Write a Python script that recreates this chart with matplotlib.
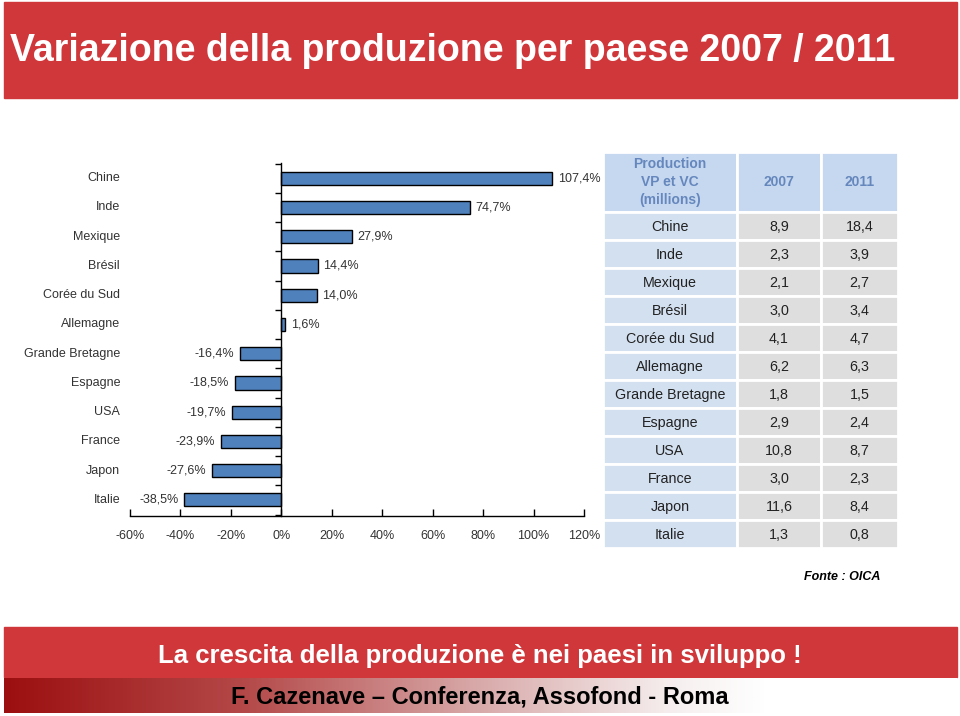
import numpy as np
import matplotlib
matplotlib.use('Agg')
import matplotlib.pyplot as plt
from matplotlib.patches import Rectangle
from matplotlib.colors import LinearSegmentedColormap

# data
countries = ['Chine', 'Inde', 'Mexique', 'Brésil', 'Corée du Sud', 'Allemagne',
             'Grande Bretagne', 'Espagne', 'USA', 'France', 'Japon', 'Italie']
variation = [107.4, 74.7, 27.9, 14.4, 14.0, 1.6, -16.4, -18.5, -19.7, -23.9, -27.6, -38.5]
prod_2007 = ['8,9', '2,3', '2,1', '3,0', '4,1', '6,2', '1,8', '2,9', '10,8', '3,0', '11,6', '1,3']
prod_2011 = ['18,4', '3,9', '2,7', '3,4', '4,7', '6,3', '1,5', '2,4', '8,7', '2,3', '8,4', '0,8']
x_ticks = [-60, -40, -20, 0, 20, 40, 60, 80, 100, 120]

plt.rcParams['font.family'] = ['Liberation Sans', 'DejaVu Sans']

W, H = 960, 716
fig = plt.figure(figsize=(W / 100, H / 100), dpi=100)

# background / overlay axes in pixel coords
bg = fig.add_axes([0, 0, 1, 1])
bg.set_xlim(0, W)
bg.set_ylim(H, 0)
bg.axis('off')

red = '#d0373a'
bg.add_patch(Rectangle((4, 2), 953, 96, color=red, zorder=1))
bg.text(10, 51, 'Variazione della produzione per paese 2007 / 2011', color='white',
        fontsize=27, fontweight='bold', va='center', ha='left')

bg.add_patch(Rectangle((4, 627), 953, 50, color=red, zorder=1))
bg.text(480, 656, 'La crescita della produzione è nei paesi in sviluppo !', color='white',
        fontsize=18.5, fontweight='bold', va='center', ha='center')

# gradient band
cmap = LinearSegmentedColormap.from_list('band', [(0.0, '#9c0f10'), (0.25, '#b44848'),
                                                  (0.5, '#d9aaaa'), (0.7, '#f6eeee'),
                                                  (0.8, '#ffffff'), (1.0, '#ffffff')])
grad = np.linspace(0, 1, 512).reshape(1, -1)
bg.imshow(grad, cmap=cmap, extent=(4, 957, 713, 678), aspect='auto', zorder=1)
bg.text(480, 697, 'F. Cazenave – Conferenza, Assofond - Roma', color='black',
        fontsize=17, fontweight='bold', va='center', ha='center')

bg.text(880, 577, 'Fonte : OICA', color='black', fontsize=9, fontstyle='italic',
        fontweight='bold', ha='right', va='center')

# table
col_x = [603, 737, 821, 898]
head_top, head_bot = 152, 212
row_h = 28
head_bg = '#c6d8ef'
first_bg = '#d3e0f0'
cell_bg = '#dedede'
for j in range(3):
    bg.add_patch(Rectangle((col_x[j], head_top), col_x[j + 1] - col_x[j], head_bot - head_top,
                           facecolor=head_bg, edgecolor='white', lw=2, zorder=2))
head_col = '#6587bd'
bg.text((col_x[0] + col_x[1]) / 2, 182, 'Production\nVP et VC\n(millions)', color=head_col,
        fontsize=10, fontweight='bold', ha='center', va='center', linespacing=1.4)
bg.text((col_x[1] + col_x[2]) / 2, 182, '2007', color=head_col, fontsize=10,
        fontweight='bold', ha='center', va='center')
bg.text((col_x[2] + col_x[3]) / 2, 182, '2011', color=head_col, fontsize=10,
        fontweight='bold', ha='center', va='center')
for i, name in enumerate(countries):
    y0 = head_bot + i * row_h
    vals = [name, prod_2007[i], prod_2011[i]]
    for j in range(3):
        bg.add_patch(Rectangle((col_x[j], y0), col_x[j + 1] - col_x[j], row_h,
                               facecolor=first_bg if j == 0 else cell_bg,
                               edgecolor='white', lw=2, zorder=2))
        bg.text((col_x[j] + col_x[j + 1]) / 2, y0 + row_h / 2 + 1, vals[j], color='#222222',
                fontsize=10.3, ha='center', va='center', zorder=3)

# bar chart
ax = fig.add_axes([130 / W, (H - 516) / H, 454 / W, 353 / H])
ax.patch.set_alpha(0)
ypos = np.arange(len(countries))[::-1]
ax.barh(ypos, variation, height=0.45, color='#4f81bd', edgecolor='black', lw=1.0, zorder=2)
ax.set_xlim(-60, 120)
ax.set_ylim(-0.55, 11.52)

ax.spines['top'].set_visible(False)
ax.spines['right'].set_visible(False)
ax.spines['left'].set_position(('data', 0))
ax.spines['left'].set_linewidth(1.0)
ax.spines['bottom'].set_linewidth(1.0)

ax.set_yticks(np.arange(-0.5, 12, 1.0))
ax.set_yticklabels([])
ax.tick_params(axis='y', direction='out', length=4, width=1)
ax.set_xticks(x_ticks)
ax.set_xticklabels([f'{v}%' for v in x_ticks], fontsize=9, color='#333333')
ax.tick_params(axis='x', direction='in', length=5, width=1, pad=10)

for y, v, name in zip(ypos, variation, countries):
    lab = f'{v:.1f}%'.replace('.', ',')
    if v >= 0:
        ax.annotate(lab, (v, y), xytext=(4, 0), textcoords='offset points',
                    ha='left', va='center', fontsize=9, color='#333333')
    else:
        ax.annotate(lab, (v, y), xytext=(-4, 0), textcoords='offset points',
                    ha='right', va='center', fontsize=9, color='#333333')
    ax.text(-0.022, y, name, transform=ax.get_yaxis_transform(), ha='right', va='center',
            fontsize=9, color='#333333')

fig.savefig('out.png', dpi=100)
